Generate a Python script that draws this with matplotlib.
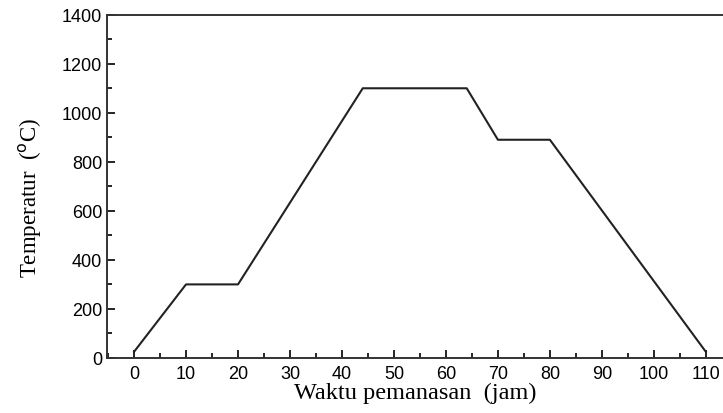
import matplotlib
matplotlib.use("Agg")
import matplotlib.pyplot as plt
from matplotlib.ticker import MultipleLocator

# heating schedule
time_h = [0, 10, 20, 44, 64, 70, 80, 110]
temp_c = [25, 300, 300, 1100, 1100, 890, 890, 25]
x_ticks = [0, 10, 20, 30, 40, 50, 60, 70, 80, 90, 100, 110]
y_ticks = [0, 200, 400, 600, 800, 1000, 1200, 1400]

fig = plt.figure(figsize=(7.23, 4.14), dpi=100)
ax = fig.add_axes([0.148, 0.133, 0.852, 0.829])

ax.plot(time_h, temp_c, color="#222222", lw=1.5)

ax.set_xlim(-5.2, 113.3)
ax.set_ylim(0, 1400)
ax.set_xticks(x_ticks)
ax.set_yticks(y_ticks)
ax.xaxis.set_minor_locator(MultipleLocator(5))
ax.yaxis.set_minor_locator(MultipleLocator(100))
ax.tick_params(which="both", direction="in", labelsize=13, width=1.2)
ax.tick_params(which="major", length=6)
ax.tick_params(which="minor", length=3.5)
ax.tick_params(axis="x", pad=5)
for lab in ax.get_xticklabels() + ax.get_yticklabels():
    lab.set_fontfamily("Liberation Sans")

ax.spines["right"].set_visible(False)
for s in ["left", "top", "bottom"]:
    ax.spines[s].set_linewidth(1.4)
    ax.spines[s].set_color("#333333")

ax.set_xlabel("Waktu pemanasan  (jam)", fontfamily="Liberation Serif", fontsize=17.5, labelpad=0)
ax.set_ylabel("Temperatur  ($^{\\mathrm{o}}$C)", fontfamily="Liberation Serif", fontsize=16.5)
ax.yaxis.set_label_coords(-0.103, 0.47)

fig.savefig("out.png", dpi=100)
